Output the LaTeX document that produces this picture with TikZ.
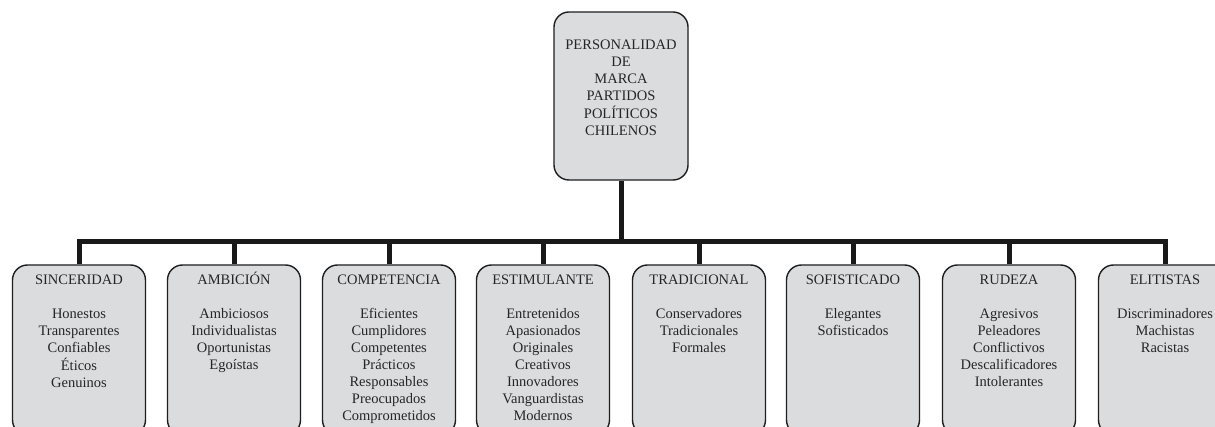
\documentclass[tikz,border=0pt]{standalone}
\usepackage{fontspec}
\setmainfont{Liberation Serif}
\definecolor{boxfill}{RGB}{219,220,222}
\definecolor{boxline}{RGB}{30,30,30}
\tikzset{
  catbox/.style={draw=boxline, line width=1.4pt, fill=boxfill, rounded corners=15pt,
    minimum width=133pt, minimum height=170pt, inner sep=0pt},
  lbl/.style={anchor=base, inner sep=0pt, text=black!85,
    font=\fontsize{14.5}{17}\selectfont},
  conn/.style={line width=5pt, draw=black!90, line join=miter}
}
\newcommand{\lst}[1]{\setlength{\tabcolsep}{0pt}\renewcommand{\arraystretch}{1}\begin{tabular}[t]{c}#1\end{tabular}}
\begin{document}
\begin{tikzpicture}[x=1pt,y=-1pt]
\useasboundingbox (0,0) rectangle (1215,427);
\clip (0,0) rectangle (1215,427);
\fill[white] (0,0) rectangle (1215,427);
% top node
\node[catbox, minimum width=134pt, minimum height=168pt] (top) at (621,96) {};
\node[lbl] (ttop) at (621,50) {\lst{PERSONALIDAD\\ DE\\ MARCA\\ PARTIDOS\\ POLÍTICOS\\ CHILENOS}};
% category boxes
\node[catbox] (b1) at (79,350) {};
\node[catbox] (b2) at (234,350) {};
\node[catbox] (b3) at (389,350) {};
\node[catbox] (b4) at (543,350) {};
\node[catbox] (b5) at (699,350) {};
\node[catbox] (b6) at (853,350) {};
\node[catbox] (b7) at (1009,350) {};
\node[catbox] (b8) at (1165,350) {};
\node[lbl] (t1) at (79,285) {\lst{SINCERIDAD\\ \\ Honestos\\ Transparentes\\ Confiables\\ Éticos\\ Genuinos}};
\node[lbl] (t2) at (234,285) {\lst{AMBICIÓN\\ \\ Ambiciosos\\ Individualistas\\ Oportunistas\\ Egoístas}};
\node[lbl] (t3) at (389,285) {\lst{COMPETENCIA\\ \\ Eficientes\\ Cumplidores\\ Competentes\\ Prácticos\\ Responsables\\ Preocupados\\ Comprometidos}};
\node[lbl] (t4) at (543,285) {\lst{ESTIMULANTE\\ \\ Entretenidos\\ Apasionados\\ Originales\\ Creativos\\ Innovadores\\ Vanguardistas\\ Modernos}};
\node[lbl] (t5) at (699,285) {\lst{TRADICIONAL\\ \\ Conservadores\\ Tradicionales\\ Formales}};
\node[lbl] (t6) at (853,285) {\lst{SOFISTICADO\\ \\ Elegantes\\ Sofisticados}};
\node[lbl] (t7) at (1009,285) {\lst{RUDEZA\\ \\ Agresivos\\ Peleadores\\ Conflictivos\\ Descalificadores\\ Intolerantes}};
\node[lbl] (t8) at (1165,285) {\lst{ELITISTAS\\ \\ Discriminadores\\ Machistas\\ Racistas}};
% connectors
\coordinate (j) at (621,242);
\draw[conn] (top.south) -- (j);
\draw[conn] (b1.north) -- (b1.north |- j) -- (b8.north |- j) -- (b8.north);
\foreach \k in {2,...,7} {\draw[conn] (b\k.north |- j) -- (b\k.north);}
\end{tikzpicture}
\end{document}
